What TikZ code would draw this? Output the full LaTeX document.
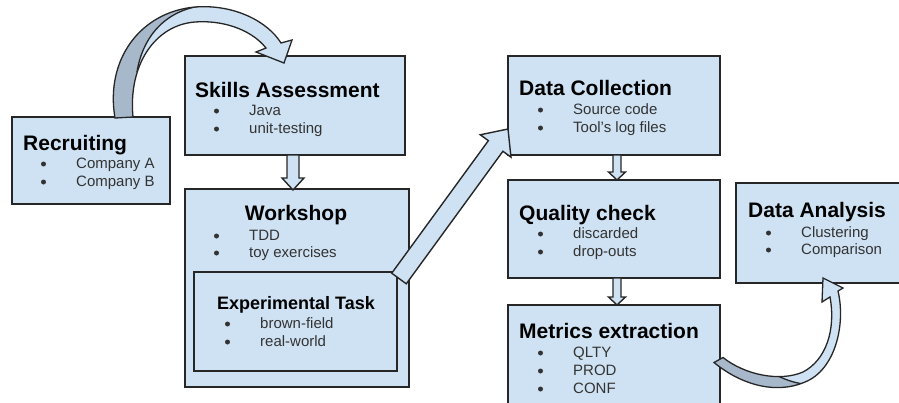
\documentclass[tikz,border=0pt]{standalone}
\usepackage{fontspec}
\setmainfont{Liberation Sans}
\usetikzlibrary{calc}

\definecolor{boxfill}{HTML}{CFE2F3}
\definecolor{boxline}{HTML}{262626}
\definecolor{backfill}{HTML}{A7B8CA}
\definecolor{itemtext}{HTML}{333333}

\tikzset{
  box/.style={draw=boxline, fill=boxfill, line width=1.5pt, inner sep=0pt, outer sep=0pt, anchor=north west},
  heading/.style={anchor=base west, inner sep=0pt, font=\fontsize{21}{25}\selectfont\bfseries},
  subheading/.style={anchor=base west, inner sep=0pt, font=\fontsize{18}{22}\selectfont\bfseries},
  item/.style={anchor=base west, inner sep=0pt, text=itemtext, font=\fontsize{15}{18}\selectfont},
  blockarrow/.style={draw=boxline, fill=boxfill, line width=1.4pt, line join=miter},
  arcline/.style={draw=boxline, line width=1.3pt, line join=miter},
}

% list entry: name, text x, baseline y, text (bullet drawn as a dot to the left)
\newcommand\listentry[4]{%
  \node[item] (#1) at (#2,#3) {#4};
  \fill[itemtext] ($(#1.base west)+(-32.5,-4)$) circle (2.5);
}

% straight block arrow: tail, tip, shaft half width, head half width, head length
\newcommand\blockarr[5]{%
  \coordinate (ba-h) at ($(#2)!#5!(#1)$);
  \draw[blockarrow] ($(#1)!#3!90:(#2)$) -- ($(ba-h)!#3!90:(#2)$) -- ($(ba-h)!#4!90:(#2)$)
    -- (#2) -- ($(ba-h)!#4!-90:(#2)$) -- ($(ba-h)!#3!-90:(#2)$) -- ($(#1)!#3!-90:(#2)$) -- cycle;
}

\begin{document}
\begin{tikzpicture}[x=1pt,y=-1pt]
\useasboundingbox (0,0) rectangle (899,402);

% ---- boxes ----
\node[box, minimum width=158pt, minimum height=87pt]  (rec) at (12,117) {};
\node[box, minimum width=220pt, minimum height=99pt]  (sa)  at (185,56) {};
\node[box, minimum width=224pt, minimum height=198pt] (ws)  at (185,189) {};
\node[box, minimum width=203pt, minimum height=99pt]  (et)  at (194,272) {};
\node[box, minimum width=212pt, minimum height=99pt]  (dc)  at (508,56) {};
\node[box, minimum width=212pt, minimum height=98pt]  (qc)  at (508,180) {};
\node[box, minimum width=212pt, minimum height=110pt] (me)  at (508,305) {};
\node[box, minimum width=175pt, minimum height=100pt] (da)  at (736,183) {};

% ---- texts ----
\node[heading] (recT) at (23,150) {Recruiting};
\listentry{rec1}{76}{168}{Company A}
\listentry{rec2}{76}{186}{Company B}

\node[heading] (saT) at (195,97) {Skills Assessment};
\listentry{sa1}{249}{115}{Java}
\listentry{sa2}{249}{133}{unit-testing}

\node[heading, anchor=base] (wsT) at (296,220) {Workshop};
\listentry{ws1}{249}{240}{TDD}
\listentry{ws2}{249}{257}{toy exercises}

\node[subheading] (etT) at (217,309) {Experimental Task};
\listentry{et1}{260}{328}{brown-field}
\listentry{et2}{260}{346}{real-world}

\node[heading] (dcT) at (519,95) {Data Collection};
\listentry{dc1}{573}{114}{Source code}
\listentry{dc2}{573}{132}{Tool’s log files}

\node[heading] (qcT) at (519,220) {Quality check};
\listentry{qc1}{573}{238}{discarded}
\listentry{qc2}{573}{256}{drop-outs}

\node[heading] (meT) at (519,338) {Metrics extraction};
\listentry{me1}{573}{357}{QLTY}
\listentry{me2}{573}{375}{PROD}
\listentry{me3}{573}{393}{CONF}

\node[heading] (daT) at (748,217) {Data Analysis};
\listentry{da1}{801}{237}{Clustering}
\listentry{da2}{801}{254}{Comparison}

% ---- straight block arrows ----
\coordinate (a1t) at ($(sa.south)+(-2,0)$);
\coordinate (a1h) at ($(ws.north)+(-4,1)$);
\blockarr{a1t}{a1h}{6pt}{11pt}{12pt}

\coordinate (a2t) at ($(dc.south)+(3,0)$);
\coordinate (a2h) at ($(qc.north)+(3,0)$);
\blockarr{a2t}{a2h}{4pt}{8.5pt}{8pt}

\coordinate (a3t) at ($(qc.south)+(3,0)$);
\coordinate (a3h) at ($(me.north)+(3,0)$);
\blockarr{a3t}{a3h}{4pt}{8.5pt}{8pt}

\coordinate (a4t) at ($(ws.east)+(-10,-9.5)$);
\coordinate (a4h) at ($(dc.south west)+(0,-26)$);
\blockarr{a4t}{a4h}{9pt}{19pt}{21pt}

% ---- curved arrow: Recruiting to Skills Assessment ----
\coordinate (c1a) at ($(rec.north)+(24,1)$);
\coordinate (c1b) at ($(rec.north)+(42,0)$);
\coordinate (c1h) at ($(sa.north west)+(99,7)$);
\tikzset{toparc/.style={insert path={
  (c1a) .. controls (105,60) and (140,12) .. (195,7)
        .. controls (235,4) and (268,22) .. (281,43)
  -- (292,40) -- (c1h) -- (256,52) -- (266,48)
        .. controls (250,28) and (220,20) .. (195,22)
        .. controls (155,25) and (128,65) .. (c1b) -- cycle}}}
\path[fill=boxfill, toparc];
\begin{scope}
  \clip[toparc];
  \fill[backfill] (90,135) -- (90,-5) -- (200,-5) -- (200,6)
     .. controls (162,12) and (142,40) .. (137,72) -- (145,135) -- cycle;
  \draw[arcline] (200,6) .. controls (162,12) and (142,40) .. (137,72);
\end{scope}
\path[arcline, toparc];

% ---- curved arrow: Metrics extraction to Data Analysis ----
\coordinate (c2a) at ($(me.east)+(-6,2.5)$);
\coordinate (c2b) at ($(me.east)+(3,-2.5)$);
\coordinate (c2h) at ($(da.south west)+(87,-5)$);
\tikzset{botarc/.style={insert path={
  (c2a) .. controls (740,384) and (775,395) .. (805,382)
        .. controls (835,370) and (846,325) .. (838,291)
  -- (843,288) -- (c2h) -- (822,302) -- (830,297)
        .. controls (836,330) and (826,360) .. (803,372)
        .. controls (780,382) and (745,375) .. (c2b) -- cycle}}}
\path[fill=boxfill, botarc];
\begin{scope}
  \clip[botarc];
  \fill[backfill] (700,340) -- (770,372) .. controls (785,380) and (800,386) .. (818,384)
     -- (818,400) -- (700,400) -- cycle;
  \draw[arcline] (770,372) .. controls (785,380) and (800,386) .. (818,384);
\end{scope}
\path[arcline, botarc];

\end{tikzpicture}
\end{document}
